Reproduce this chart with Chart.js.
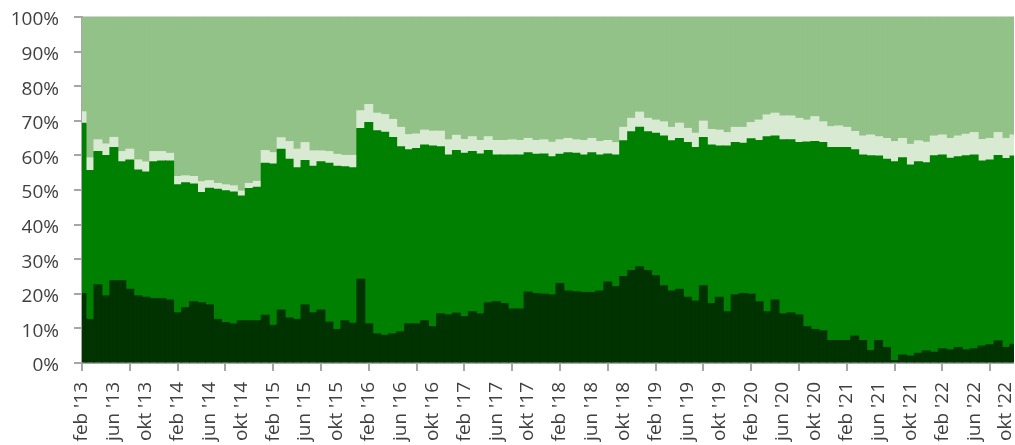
<!DOCTYPE html>
<html lang="nl">
<head>
  <meta charset="UTF-8">
  <title>Aandeel per maand</title>
  <script src="https://cdn.jsdelivr.net/npm/chart.js"></script>
  <style>
    html, body {
      margin: 0;
      padding: 0;
      background: #fff;
      overflow: hidden;
    }

    #wrap {
      position: relative;
      width: 1014px;
      height: 445px;
    }
  </style>
</head>
<body>
  <div id="wrap"><canvas id="chart"></canvas></div>

  <script>
    // months feb '13 .. nov '22, one bar per month
    const monthNames = ['jan', 'feb', 'mrt', 'apr', 'mei', 'jun', 'jul', 'aug', 'sep', 'okt', 'nov', 'dec'];
    const startYear = 2013;
    const startMonth = 1; // feb
    const monthCount = 118;

    // share per series (%), bottom to top
    const darkShare = [
      20.1, 12.6, 22.6, 19.4, 23.8, 23.8, 21.3, 19.4, 19.0, 18.6,
      18.6, 18.2, 14.5, 16.0, 17.7, 17.4, 16.8, 12.6, 11.7, 11.3,
      12.2, 12.2, 12.2, 13.8, 10.9, 15.3, 13.0, 12.6, 16.8, 14.5,
      15.3, 11.8, 9.7, 12.2, 11.5, 24.2, 11.3, 8.4, 8.0, 8.4,
      9.0, 11.3, 11.3, 12.2, 10.5, 14.2, 13.9, 14.4, 13.4, 14.8,
      14.2, 17.4, 17.7, 17.2, 15.6, 15.6, 20.5, 20.1, 19.9, 19.7,
      23.0, 20.8, 20.6, 20.4, 20.4, 20.8, 23.4, 22.1, 25.0, 26.7,
      27.8, 26.7, 25.2, 22.3, 20.8, 21.3, 19.0, 17.9, 22.3, 17.2,
      19.0, 14.8, 19.7, 20.1, 19.9, 17.7, 14.8, 18.2, 14.2, 14.5,
      13.9, 10.5, 9.7, 9.3, 6.5, 6.5, 6.5, 7.8, 6.5, 3.6,
      6.5, 4.5, 0.7, 2.3, 2.0, 2.8, 3.5, 3.1, 4.1, 3.8,
      4.5, 3.8, 4.1, 4.9, 5.3, 6.4, 4.5, 5.4
    ];
    const greenShare = [
      49.2, 43.0, 38.5, 40.6, 38.5, 34.4, 37.4, 36.4, 36.2, 39.6,
      39.8, 40.2, 37.0, 36.1, 34.0, 31.9, 33.7, 37.6, 38.1, 38.1,
      36.1, 38.2, 38.6, 43.9, 46.6, 46.5, 45.9, 43.8, 41.7, 42.4,
      42.9, 45.9, 47.2, 44.5, 44.9, 43.6, 58.2, 58.7, 58.7, 56.8,
      53.5, 50.3, 50.7, 50.8, 52.2, 48.3, 46.2, 47.0, 47.2, 46.3,
      46.2, 44.0, 42.4, 42.9, 44.5, 44.5, 40.3, 40.2, 40.5, 39.9,
      37.3, 40.0, 40.0, 39.7, 40.4, 39.3, 37.0, 38.0, 39.2, 40.1,
      40.3, 40.1, 41.2, 43.3, 43.4, 43.6, 44.7, 44.4, 42.9, 45.8,
      43.7, 47.9, 44.0, 43.4, 44.9, 46.6, 50.6, 47.4, 50.3, 50.0,
      49.8, 53.4, 54.3, 54.4, 55.8, 55.8, 55.8, 53.8, 53.6, 56.3,
      53.3, 54.4, 57.5, 57.0, 55.2, 55.4, 54.4, 56.8, 56.0, 55.4,
      55.1, 56.1, 56.0, 53.5, 53.4, 53.6, 54.6, 54.4
    ];
    const paleShare = [
      3.3, 3.7, 3.4, 3.3, 2.9, 2.9, 3.1, 2.9, 2.9, 2.9,
      2.7, 2.2, 2.4, 2.0, 2.2, 3.1, 2.2, 1.7, 1.7, 1.8,
      1.4, 1.5, 1.7, 3.7, 3.3, 3.3, 5.1, 5.4, 5.2, 4.4,
      3.1, 3.4, 3.4, 3.3, 3.6, 5.1, 5.2, 5.1, 5.1, 5.2,
      5.6, 4.4, 4.2, 4.3, 4.3, 4.5, 4.4, 4.4, 4.0, 4.3,
      3.9, 4.0, 4.2, 4.2, 4.4, 4.2, 4.1, 4.0, 4.1, 4.2,
      4.2, 4.1, 3.9, 4.2, 4.1, 3.9, 3.9, 3.6, 3.9, 3.9,
      4.4, 3.9, 3.8, 4.1, 3.9, 4.4, 4.1, 4.1, 4.7, 4.5,
      4.6, 3.9, 4.4, 4.6, 4.7, 5.9, 6.3, 6.6, 6.9, 6.9,
      7.0, 6.3, 7.2, 6.0, 6.0, 6.2, 5.8, 5.3, 5.5, 6.0,
      5.6, 6.0, 5.8, 5.6, 6.0, 6.0, 5.9, 5.7, 5.8, 5.7,
      6.0, 6.2, 6.5, 6.2, 6.2, 6.6, 5.8, 6.1
    ];
    const restShare = [
      27.4, 40.7, 35.5, 36.7, 34.8, 38.9, 38.2, 41.3, 41.9, 38.9,
      38.9, 39.4, 46.1, 45.9, 46.1, 47.6, 47.3, 48.1, 48.5, 48.8,
      50.3, 48.1, 47.5, 38.6, 39.2, 34.9, 36.0, 38.2, 36.3, 38.7,
      38.7, 38.9, 39.7, 40.0, 40.0, 27.1, 25.3, 27.8, 28.2, 29.6,
      31.9, 34.0, 33.8, 32.7, 33.0, 33.0, 35.5, 34.2, 35.4, 34.6,
      35.7, 34.6, 35.7, 35.7, 35.5, 35.7, 35.1, 35.7, 35.5, 36.2,
      35.5, 35.1, 35.5, 35.7, 35.1, 36.0, 35.7, 36.3, 31.9, 29.3,
      27.5, 29.3, 29.8, 30.3, 31.9, 30.7, 32.2, 33.6, 30.1, 32.5,
      32.7, 33.4, 31.9, 31.9, 30.5, 29.8, 28.3, 27.8, 28.6, 28.6,
      29.3, 29.8, 28.8, 30.3, 31.7, 31.5, 31.9, 33.1, 34.4, 34.1,
      34.6, 35.1, 36.0, 35.1, 36.8, 35.8, 36.2, 34.4, 34.1, 35.1,
      34.4, 33.9, 33.4, 35.4, 35.1, 33.4, 35.1, 34.1
    ];

    const labels = [];
    for (let i = 0; i < monthCount; i++) {
      const m = (startMonth + i) % 12;
      const y = startYear + Math.floor((startMonth + i) / 12);
      labels.push(monthNames[m] + " '" + String(y).slice(2));
    }

    const axisGrey = '#a6a6a6';
    const textGrey = '#404040';
    const font = { family: "'Open Sans', sans-serif", size: 19 };

    const ds = (data, color) => ({
      data,
      backgroundColor: color,
      borderWidth: 0,
      barPercentage: 1,
      categoryPercentage: 1,
      inflateAmount: 0.5
    });

    new Chart(document.getElementById('chart'), {
      type: 'bar',
      data: {
        labels,
        datasets: [
          ds(darkShare, '#003300'),
          ds(greenShare, '#008000'),
          ds(paleShare, '#d9ead3'),
          ds(restShare, '#92c287')
        ]
      },
      options: {
        responsive: true,
        maintainAspectRatio: false,
        animation: false,
        layout: { padding: { top: 17, right: 0, left: 0, bottom: 0 } },
        plugins: {
          legend: { display: false },
          tooltip: { enabled: false }
        },
        scales: {
          x: {
            stacked: true,
            offset: false,
            grid: {
              offset: false,
              drawOnChartArea: false,
              tickLength: 8,
              lineWidth: 2,
              color: ctx => (ctx.index % 6 === 0 ? axisGrey : 'transparent')
            },
            border: { color: axisGrey, width: 2 },
            ticks: {
              autoSkip: false,
              minRotation: 90,
              maxRotation: 90,
              padding: 11,
              color: textGrey,
              font,
              callback: (v, i) => (i % 4 === 0 ? labels[i] : '')
            },
            afterFit: s => {
              s.height = 82;
              s.paddingLeft = 0;
              s.paddingRight = 0;
            }
          },
          y: {
            stacked: true,
            min: 0,
            max: 100,
            z: 1,
            grid: {
              drawOnChartArea: true,
              tickLength: 8,
              lineWidth: 2,
              color: ctx => (ctx.tick && ctx.tick.value === 100 ? '#d4d4d4' : 'transparent'),
              tickColor: axisGrey
            },
            border: { color: axisGrey, width: 2 },
            ticks: {
              stepSize: 10,
              padding: 15,
              labelOffset: 3,
              color: textGrey,
              font,
              callback: v => v + '%'
            },
            afterFit: s => {
              s.width = 82;
              s.paddingTop = 0;
              s.paddingBottom = 0;
            }
          }
        }
      }
    });
  </script>
</body>
</html>
